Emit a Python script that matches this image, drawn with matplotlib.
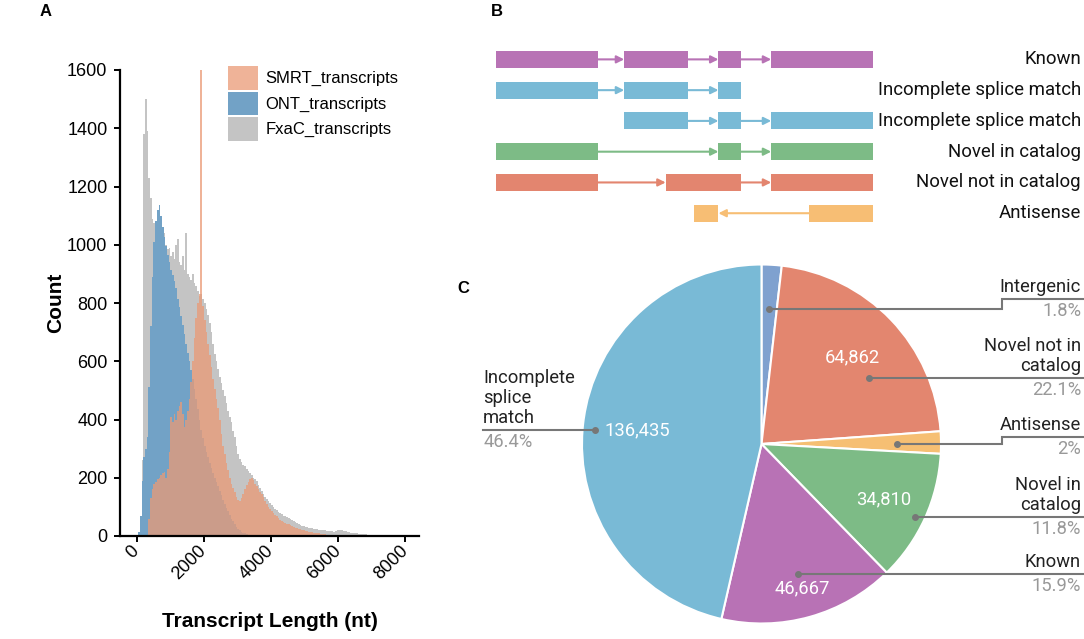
import numpy as np
import matplotlib
matplotlib.use("Agg")
import matplotlib.pyplot as plt
from matplotlib.patches import Patch, Rectangle
from matplotlib.transforms import blended_transform_factory

# ---------------- Data ----------------
# A: transcript length histograms, 50 nt bins (first bin start given per series)
bin_width = 50
fxac_start = 150
fxac_counts = [260, 1380, 1500, 1390, 1230, 1160, 1090, 1075, 1000, 1010, 1000, 1050, 1060, 1040,
               1000, 985, 990, 960, 975, 950, 1000, 1020, 940, 930, 960, 915, 1040, 900, 890, 880,
               900, 870, 860, 840, 825, 830, 815, 800, 780, 760, 730, 700, 660, 625, 600, 575, 545,
               525, 500, 480, 458, 430, 410, 390, 360, 340, 310, 280, 265, 255, 245, 240, 230, 222,
               215, 210, 200, 195, 188, 175, 165, 155, 145, 135, 128, 120, 112, 106, 100, 94, 88, 83,
               78, 74, 70, 67, 64, 62, 58, 54, 50, 47, 44, 41, 38, 36, 34, 32, 30, 29, 27, 26, 25, 24,
               23, 22, 21, 21, 20, 19, 18, 17, 16, 17, 15, 18, 20, 21, 19, 20, 17, 16, 15, 13, 12, 11,
               10, 10, 9, 8, 8, 7, 6, 6, 5, 5, 5, 4, 4, 4, 5, 4, 3, 3, 3, 4, 3, 3, 2, 3, 2, 2, 3, 2, 2,
               2, 2]
ont_start = 50
ont_counts = [15, 70, 190, 270, 300, 340, 510, 720, 890, 1010, 1080, 1120, 1136, 1100, 1060, 1025,
              995, 965, 940, 915, 895, 875, 850, 815, 785, 755, 725, 695, 660, 630, 600, 570, 540,
              505, 470, 435, 400, 365, 335, 310, 290, 270, 252, 235, 218, 200, 185, 170, 155, 140,
              125, 110, 97, 85, 72, 60, 50, 40, 32, 25, 19, 15, 12, 9, 7, 5, 4, 3, 2, 2, 1, 1, 1]
smrt_start = 350
smrt_counts = [60, 130, 160, 180, 185, 195, 200, 210, 215, 220, 200, 230, 290, 410, 390, 420, 400,
               430, 445, 460, 420, 375, 400, 430, 470, 530, 600, 680, 750, 800, 830, 1700, 790, 740,
               700, 660, 620, 580, 540, 505, 470, 440, 400, 350, 310, 280, 250, 225, 200, 180, 165,
               150, 135, 125, 120, 130, 145, 160, 175, 185, 195, 198, 192, 180, 170, 160, 150, 145,
               135, 120, 110, 100, 92, 86, 80, 73, 67, 61, 56, 52, 48, 45, 42, 40, 37, 34, 31, 29,
               27, 25, 23, 22, 20, 18, 17, 15, 14, 13, 12, 11, 10, 9, 8, 7, 7, 6, 5, 5, 4, 4, 3, 3,
               2, 2, 2, 2]
series_names = ["SMRT_transcripts", "ONT_transcripts", "FxaC_transcripts"]

# B: isoform structures (exon start/end on a 0-100 schematic scale)
isoform_names = ["Known", "Incomplete splice match", "Incomplete splice match",
                 "Novel in catalog", "Novel not in catalog", "Antisense"]
isoform_exons = [
    [(0, 27), (34, 51), (59, 65), (73, 100)],
    [(0, 27), (34, 51), (59, 65)],
    [(34, 51), (59, 65), (73, 100)],
    [(0, 27), (59, 65), (73, 100)],
    [(0, 27), (45, 65), (73, 100)],
    [(52.5, 59), (83, 100)],
]
isoform_strand = [1, 1, 1, 1, 1, -1]
isoform_colors = ["#B873B5", "#79BAD6", "#79BAD6", "#7DBB86", "#E3856F", "#F7BE74"]

# C: structural categories
categories = ["Intergenic", "Novel not in\ncatalog", "Antisense", "Novel in\ncatalog",
              "Known", "Incomplete\nsplice\nmatch"]
cat_counts = [5300, 64862, 5900, 34810, 46667, 136435]
cat_colors = ["#7FA1CF", "#E3866F", "#F6BF73", "#7DBB86", "#B872B5", "#79BAD6"]

# ---------------- Figure ----------------
W, H = 1084, 639
fig = plt.figure(figsize=(W / 100, H / 100), dpi=100)


def px_box(l, t, r, b):
    return [l / W, 1 - b / H, (r - l) / W, (b - t) / H]


def edges(start, n):
    return start + bin_width * np.arange(n + 1)


# ---------------- Panel A ----------------
arial = "Liberation Sans"
ax = fig.add_axes(px_box(120, 70, 419, 536))
c_smrt, c_ont, c_fxac = "#EA9A76", "#72A2C6", "#C4C4C4"
ax.stairs(fxac_counts, edges(fxac_start, len(fxac_counts)), fill=True, color=c_fxac, lw=0)
ax.stairs(ont_counts, edges(ont_start, len(ont_counts)), fill=True, color=c_ont, lw=0)
ax.stairs(smrt_counts, edges(smrt_start, len(smrt_counts)), fill=True, color=c_smrt, alpha=0.75, lw=0)
ax.set_xlim(-496, 8404)
ax.set_ylim(0, 1600)
ax.set_xticks([0, 2000, 4000, 6000, 8000])
ax.set_yticks(np.arange(0, 1601, 200))
for s in ["top", "right"]:
    ax.spines[s].set_visible(False)
for s in ["left", "bottom"]:
    ax.spines[s].set_linewidth(1.6)
ax.tick_params(direction="out", length=4, width=1.4, labelsize=13, pad=5)
for lab in ax.get_xticklabels():
    lab.set_rotation(45)
    lab.set_ha("right")
    lab.set_va("center")
    lab.set_rotation_mode("anchor")
    lab.set_family(arial)
for lab in ax.get_yticklabels():
    lab.set_family(arial)
ax.set_ylabel("Count", fontsize=15, fontweight="bold", family=arial)
ax.yaxis.set_label_coords(-0.184, 0.5)
ax.set_xlabel("Transcript Length (nt)", fontsize=15, fontweight="bold", family=arial)
ax.xaxis.set_label_coords(0.5, -0.163)

handles = [Patch(facecolor=c_smrt, alpha=0.75, edgecolor="none"),
           Patch(facecolor=c_ont, edgecolor="none"),
           Patch(facecolor=c_fxac, edgecolor="none")]
fig.legend(handles, series_names, loc="upper left", bbox_to_anchor=(228 / W, 1 - 66 / H),
           bbox_transform=fig.transFigure, frameon=False, borderpad=0, borderaxespad=0,
           handlelength=1.8, handleheight=1.8, labelspacing=0.12, handletextpad=0.45,
           prop={"family": arial, "size": 12})

# ---------------- Panel B ----------------
roboto = "Roboto"
axb = fig.add_axes(px_box(496, 44, 873, 228.6))
axb.set_xlim(0, 100)
axb.set_ylim(5.5, -0.5)
axb.axis("off")
box_h = 0.55
for i, (exons, strand, col) in enumerate(zip(isoform_exons, isoform_strand, isoform_colors)):
    for (s, e) in exons:
        axb.add_patch(Rectangle((s, i - box_h / 2), e - s, box_h, facecolor=col,
                                edgecolor="none"))
    for (s0, e0), (s1, e1) in zip(exons[:-1], exons[1:]):
        if strand > 0:
            a, b = e0, s1
        else:
            a, b = s1, e0
        axb.annotate("", xy=(b, i), xytext=(a, i),
                     arrowprops=dict(arrowstyle="-|>", color=col, lw=1.5, shrinkA=0,
                                     shrinkB=0, mutation_scale=11))
tb = blended_transform_factory(fig.transFigure, axb.transData)
for i, name in enumerate(isoform_names):
    axb.text(1081 / W, i, name, transform=tb, ha="right", va="center", fontsize=13.4,
             family=roboto, color="#111111")

# ---------------- Panel C ----------------
R, CX, CY = 179.5, 761.5, 444
axc = fig.add_axes([0, 0, 1, 1])
wedges, _ = axc.pie(cat_counts, colors=cat_colors, startangle=90, counterclock=False,
                    radius=1, wedgeprops=dict(edgecolor="white", linewidth=1.5))
axc.set_aspect("auto")
axc.set_xlim(-CX / R, (W - CX) / R)
axc.set_ylim(-(H - CY) / R, CY / R)
axc.axis("off")

total = sum(cat_counts)
fracs = [c / total for c in cat_counts]
mid_angles = []
a0 = 90.0
for f in fracs:
    mid_angles.append(a0 - f * 180.0)
    a0 -= f * 360.0

pct_labels = []
for f in fracs:
    s = f"{f * 100:.1f}".rstrip("0").rstrip(".")
    pct_labels.append(s + "%")

# value labels inside the big slices
value_r = [None, 0.70, None, 0.75, 0.835, 0.694]
for c, ang, r in zip(cat_counts, mid_angles, value_r):
    if r is None:
        continue
    t = np.deg2rad(ang)
    axc.text(r * np.cos(t), r * np.sin(t), f"{c:,}", ha="center", va="center",
             color="white", fontsize=13.2, family=roboto)

# callouts
dot_angle = [86.8, 31.5, 0.0, -25.4, -74.4, 175.2]
dot_r = [0.753, 0.70, 0.755, 0.947, 0.758, 0.931]
line_y = [0.808, 0.368, 0.039, -0.407, -0.727, 0.078]
elbow_x = 1.34
right_x = 1.79
left_x = -1.551
gap = 3 / R
line_c = "#777777"
for name, pct, ang, r, ly in zip(categories, pct_labels, dot_angle, dot_r, line_y):
    t = np.deg2rad(ang)
    dx, dy = r * np.cos(t), r * np.sin(t)
    if dx >= 0:
        if abs(dy - ly) > 0.01:
            xs = [dx, elbow_x, elbow_x, right_x]
            ys = [dy, dy, ly, ly]
        else:
            xs, ys = [dx, right_x], [ly, ly]
            dy = ly
        tx, ha = right_x - 0.01, "right"
    else:
        xs, ys = [left_x, dx], [ly, ly]
        dy = ly
        tx, ha = left_x, "left"
    axc.plot(xs, ys, color=line_c, lw=1.5, clip_on=False, solid_joinstyle="miter")
    axc.plot([dx], [dy], "o", color=line_c, ms=4, clip_on=False)
    axc.text(tx, ly + gap, name, ha=ha, va="bottom", fontsize=13.2, family=roboto,
             color="#222222", linespacing=1.15)
    axc.text(tx, ly - gap, pct, ha=ha, va="top", fontsize=13.2, family=roboto, color="#999999")

# panel letters
for letter, x, y in [("A", 46, 12), ("B", 497, 12), ("C", 463, 288)]:
    fig.text(x / W, 1 - y / H, letter, fontsize=12, fontweight="bold", family=arial,
             ha="center", va="center")

fig.savefig("out.png", dpi=100)
